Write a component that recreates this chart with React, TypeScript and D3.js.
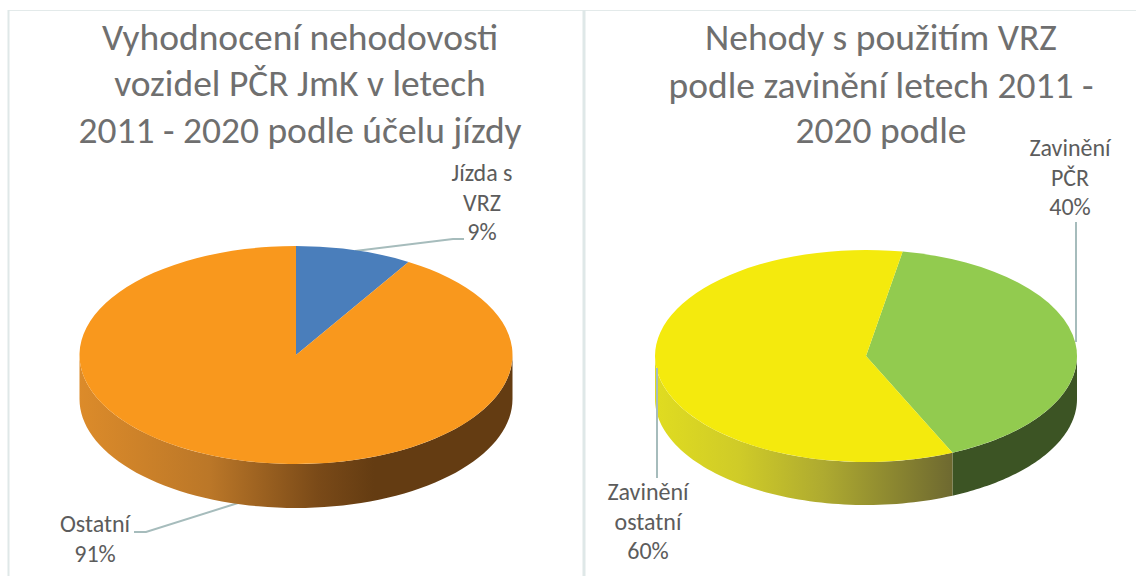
import React from "react";
import * as d3 from "d3";

const W = 1136, H = 576;
const leftNames = ["Jízda s VRZ", "Ostatní"];
const leftValues = [8.7, 91.3];
const rightNames = ["Zavinění PČR", "Zavinění ostatní"];
const rightValues = [40.5, 59.5];
const leftTitle = ["Vyhodnocení nehodovosti", "vozidel PČR JmK v letech", "2011 - 2020 podle účelu jízdy"];
const rightTitle = ["Nehody s použitím VRZ", "podle zavinění letech 2011 -", "2020 podle"];
const leftLabelPct = ["9%", "91%"];
const rightLabelPct = ["40%", "60%"];
const FONT = "Carlito, Calibri, Lato, 'Open Sans', sans-serif";
const GREY = "#6f6f6f";
const LABEL = "#5c5c5c";
const LINE = "#a6bcbc";

type PieProps = {
  id: string; cx: number; cy: number; rx: number; ry: number; depth: number;
  values: number[]; start: number; tops: string[];
  sides: { stops: [number, string][] }[];
};

function Pie3D({ id, cx, cy, rx, ry, depth, values, start, tops, sides }: PieProps) {
  const arcs = d3.pie<number>().sort(null).startAngle(start).endAngle(start + 2 * Math.PI)(values);
  const arc = d3.arc<d3.PieArcDatum<number>>().innerRadius(0).outerRadius(rx);
  const x = (t: number) => cx + rx * Math.sin(t);
  const y = (t: number) => cy - ry * Math.cos(t);
  const sidePath = (a0: number, a1: number) => {
    // keep only the part of the rim facing the viewer
    const lo = Math.max(a0, Math.PI / 2), hi = Math.min(a1, (3 * Math.PI) / 2);
    if (hi <= lo) return "";
    const ts = d3.range(0, 73).map((i) => lo + ((hi - lo) * i) / 72);
    const pts: [number, number][] = [
      ...ts.map((t) => [x(t), y(t)] as [number, number]),
      ...ts.slice().reverse().map((t) => [x(t), y(t) + depth] as [number, number]),
    ];
    return d3.line()(pts)! + "Z";
  };
  return (
    <g>
      <defs>
        {sides.map((s, i) => (
          <linearGradient key={i} id={`${id}-${i}`} gradientUnits="userSpaceOnUse" x1={cx - rx} x2={cx + rx} y1={0} y2={0}>
            {s.stops.map(([o, c], j) => <stop key={j} offset={o} stopColor={c} />)}
          </linearGradient>
        ))}
      </defs>
      {arcs.map((a, i) => (
        <path key={"s" + i} d={sidePath(a.startAngle, a.endAngle)} fill={`url(#${id}-${i})`} />
      ))}
      {arcs.map((a, i) => (
        <path key={"t" + i} d={arc(a)!} fill={tops[i]} transform={`translate(${cx},${cy}) scale(1,${ry / rx})`} />
      ))}
    </g>
  );
}

const Lines = ({ lines, x, ys, size, fill }: { lines: string[]; x: number; ys: number[]; size: number; fill: string }) => (
  <text textAnchor="middle" fontSize={size} fill={fill} fontFamily={FONT}>
    {lines.map((l, i) => <tspan key={i} x={x} y={ys[i]}>{l}</tspan>)}
  </text>
);

export default function App() {
  return (
    <svg width={W} height={H} viewBox={`0 0 ${W} ${H}`} style={{ position: "absolute", left: 0, top: 0, background: "#fff" }}>
      <line x1={8} x2={W} y1={10.5} y2={10.5} stroke="#e3eaea" strokeWidth={1} />
      <line x1={8.5} x2={8.5} y1={10} y2={H} stroke="#dfe8e8" strokeWidth={2} />
      <line x1={584} x2={584} y1={10} y2={H} stroke="#dfe8e8" strokeWidth={3} />

      <Lines lines={leftTitle} x={300} ys={[50, 96, 143]} size={37.5} fill={GREY} />
      <Lines lines={rightTitle} x={881} ys={[50, 98, 143]} size={37.5} fill={GREY} />

      <polyline points="355,251 453,239 464,239" fill="none" stroke={LINE} strokeWidth={2} />
      <polyline points="134,532 146,532 238,503" fill="none" stroke={LINE} strokeWidth={2} />
      <polyline points="1076,222 1076,342" fill="none" stroke={LINE} strokeWidth={2} />

      <Pie3D id="l" cx={296} cy={355} rx={216.5} ry={109} depth={44} values={leftValues} start={0}
        tops={["#4a7ebb", "#f9981d"]}
        sides={[
          { stops: [[0, "#3a6190"], [1, "#3a6190"]] },
          { stops: [[0, "#dc8b2a"], [0.3, "#bb7728"], [0.55, "#7a4a18"], [0.68, "#643c12"], [1, "#643c12"]] },
        ]} />
      <Pie3D id="r" cx={866} cy={356} rx={211} ry={106} depth={43} values={rightValues} start={(10 * Math.PI) / 180}
        tops={["#92cb4f", "#f4ea0d"]}
        sides={[
          { stops: [[0, "#3c5424"], [1, "#3c5424"]] },
          { stops: [[0, "#e0dc20"], [0.2, "#cfcb28"], [0.4, "#aeaa30"], [0.7, "#6f6a30"], [1, "#6f6a30"]] },
        ]} />
      <polyline points="657,368 657,478" fill="none" stroke={LINE} strokeWidth={2} />

      <Lines lines={["Jízda s", "VRZ", leftLabelPct[0]]} x={482} ys={[181, 211, 240]} size={24} fill={LABEL} />
      <Lines lines={[leftNames[1], leftLabelPct[1]]} x={95} ys={[532, 562]} size={24} fill={LABEL} />
      <Lines lines={["Zavinění", "PČR", rightLabelPct[0]]} x={1070} ys={[156, 186, 215]} size={24} fill={LABEL} />
      <Lines lines={["Zavinění", "ostatní", rightLabelPct[1]]} x={648} ys={[500, 530, 559]} size={24} fill={LABEL} />
    </svg>
  );
}
